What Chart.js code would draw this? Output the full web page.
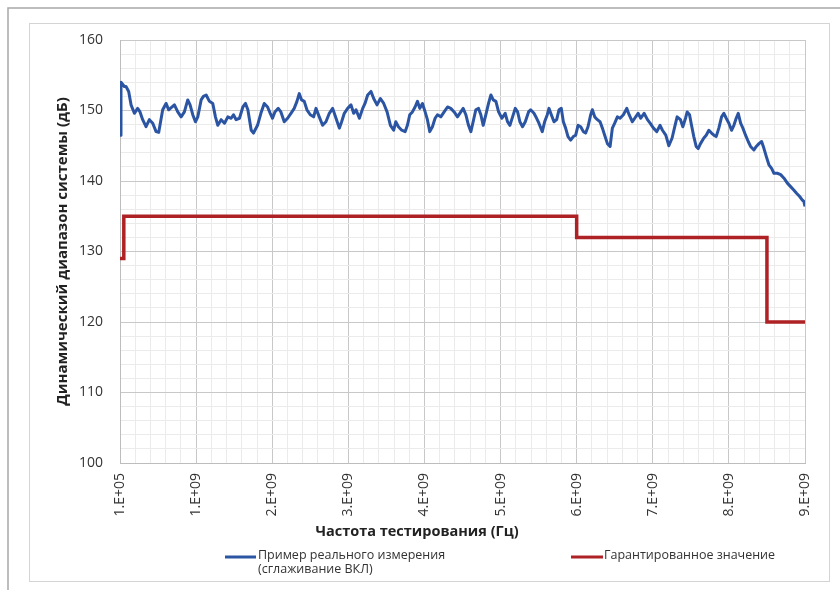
<!DOCTYPE html>
<html>
<head>
<meta charset="utf-8">
<script src="https://cdn.jsdelivr.net/npm/chart.js@4.4.1/dist/chart.umd.min.js"></script>
<style>
  body { margin: 0; background: #fff; }
</style>
</head>
<body>
<canvas id="chart" width="840" height="590"></canvas>
<script>
// frequency in GHz (axis labels are shown in Hz, Excel style)
const measFreq = [
  0, 0.013, 0.057, 0.079, 0.114, 0.145, 0.189, 0.232, 0.263, 0.298, 0.342, 0.386, 0.430, 0.474, 0.509,
  0.561, 0.605, 0.640, 0.684, 0.715, 0.759, 0.803, 0.846, 0.890, 0.921, 0.956, 0.991, 1.022, 1.066, 1.096,
  1.132, 1.175, 1.219, 1.254, 1.285, 1.329, 1.373, 1.417, 1.460, 1.491, 1.526, 1.570, 1.614, 1.649, 1.680,
  1.724, 1.754, 1.807, 1.851, 1.895, 1.939, 1.974, 2.004, 2.035, 2.079, 2.114, 2.158, 2.202, 2.246, 2.289,
  2.325, 2.355, 2.386, 2.421, 2.456, 2.500, 2.544, 2.575, 2.618, 2.662, 2.706, 2.750, 2.794, 2.838, 2.882,
  2.912, 2.947, 2.991, 3.035, 3.070, 3.101, 3.145, 3.189, 3.219, 3.254, 3.298, 3.333, 3.377, 3.421, 3.465,
  3.509, 3.553, 3.596, 3.623, 3.658, 3.702, 3.746, 3.776, 3.807, 3.842, 3.877, 3.908, 3.939, 3.974, 4.009,
  4.039, 4.070, 4.105, 4.140, 4.171, 4.215, 4.259, 4.303, 4.346, 4.390, 4.434, 4.478, 4.509, 4.544, 4.579,
  4.610, 4.640, 4.675, 4.711, 4.741, 4.772, 4.807, 4.842, 4.873, 4.904, 4.939, 4.974, 5.018, 5.061, 5.092,
  5.123, 5.158, 5.193, 5.224, 5.254, 5.289, 5.325, 5.368, 5.395, 5.439, 5.474, 5.504, 5.548, 5.579, 5.614,
  5.636, 5.667, 5.702, 5.737, 5.768, 5.798, 5.825, 5.855, 5.886, 5.921, 5.956, 5.987, 6.018, 6.053, 6.088,
  6.118, 6.149, 6.184, 6.206, 6.237, 6.272, 6.307, 6.338, 6.368, 6.404, 6.439, 6.469, 6.500, 6.535, 6.570,
  6.614, 6.658, 6.689, 6.732, 6.763, 6.807, 6.842, 6.886, 6.930, 6.965, 7.009, 7.053, 7.096, 7.127, 7.171,
  7.211, 7.254, 7.289, 7.320, 7.364, 7.395, 7.430, 7.452, 7.483, 7.509, 7.539, 7.570, 7.596, 7.627, 7.671,
  7.702, 7.737, 7.772, 7.803, 7.833, 7.868, 7.904, 7.934, 7.965, 8.000, 8.035, 8.066, 8.096, 8.123, 8.154,
  8.184, 8.219, 8.254, 8.285, 8.329, 8.360, 8.395, 8.430, 8.461, 8.491, 8.526, 8.561, 8.592, 8.636, 8.680,
  8.724, 8.768, 8.811, 8.855, 8.886, 8.930, 8.965, 8.985, 9.000
];
const measLevel = [
  146.5, 154.0, 153.4, 153.4, 152.7, 150.8, 149.6, 150.3, 149.8, 148.7, 147.7, 148.7, 148.2, 147.0, 146.9,
  150.1, 151.0, 150.1, 150.5, 150.8, 149.8, 149.1, 149.8, 151.5, 150.8, 149.4, 148.4, 149.1, 151.5, 152.0,
  152.2, 151.3, 151.0, 149.1, 147.9, 148.7, 148.2, 149.1, 148.9, 149.4, 148.7, 148.9, 150.5, 151.0, 150.1,
  147.2, 146.8, 147.9, 149.6, 151.0, 150.5, 149.6, 148.9, 149.8, 150.3, 149.8, 148.4, 148.9, 149.6, 150.3,
  151.3, 152.4, 151.5, 151.3, 150.1, 149.4, 149.1, 150.3, 149.1, 147.9, 148.4, 149.6, 150.3, 148.9, 147.5,
  148.4, 149.6, 150.3, 150.8, 149.6, 150.1, 148.9, 150.3, 151.0, 152.2, 152.7, 151.7, 150.8, 151.7, 151.0,
  149.8, 147.9, 147.2, 148.4, 147.7, 147.2, 147.0, 147.9, 149.4, 149.8, 150.5, 151.3, 150.3, 151.0, 149.8,
  148.7, 147.0, 147.7, 148.9, 149.4, 149.1, 149.8, 150.5, 150.3, 149.8, 149.1, 149.8, 150.3, 149.4, 147.9,
  147.0, 148.4, 150.1, 150.3, 149.4, 147.9, 149.4, 151.0, 152.2, 151.5, 151.3, 149.8, 148.9, 149.6, 148.4,
  147.9, 149.1, 150.3, 149.8, 148.4, 147.7, 148.4, 149.8, 150.1, 149.6, 148.9, 148.2, 147.0, 148.4, 149.4,
  150.3, 149.4, 148.4, 148.7, 150.1, 150.3, 148.4, 147.5, 146.3, 145.8, 146.3, 146.5, 147.9, 147.7, 147.0,
  146.8, 147.7, 149.4, 150.1, 149.1, 148.7, 148.4, 147.5, 146.5, 145.3, 144.9, 147.5, 148.2, 149.1, 148.9,
  149.4, 150.3, 149.4, 148.4, 148.9, 149.6, 148.9, 149.6, 148.7, 148.2, 147.5, 147.0, 147.9, 147.2, 146.5,
  145.0, 146.1, 147.7, 149.1, 148.7, 147.7, 148.9, 149.8, 149.4, 147.9, 146.3, 144.9, 144.6, 145.3, 146.1,
  146.5, 147.2, 146.8, 146.5, 146.3, 147.5, 149.1, 149.6, 148.9, 148.2, 147.2, 147.9, 148.9, 149.6, 148.2,
  147.5, 146.5, 145.6, 144.9, 144.4, 144.9, 145.3, 145.6, 144.6, 143.5, 142.3, 141.8, 141.1, 141.1, 140.9,
  140.4, 139.7, 139.2, 138.7, 138.3, 137.8, 137.3, 137.1, 136.4
];

// guaranteed value, each level held until the next frequency
const specFreq = [0, 0.05, 6.0, 8.5, 9.0];
const specLevel = [129, 135, 132, 120, 120];

const measLabel = ['Пример реального измерения', '(сглаживание ВКЛ)'];
const specLabel = 'Гарантированное значение';
const xTitle = 'Частота тестирования (Гц)';
const yTitle = 'Динамический диапазон системы (дБ)';

const BLUE = '#2b55a3';
const RED = '#ae2125';
const FONT = "'Open Sans', sans-serif";

const isMajor = (v, unit) => Math.abs(v / unit - Math.round(v / unit)) < 1e-6;

// frames, x title and legend are drawn around the chart like in the Excel sheet
const decor = {
  id: 'decor',
  beforeDraw(chart) {
    const c = chart.ctx;
    c.save();
    c.fillStyle = '#fff';
    c.fillRect(0, 0, chart.width, chart.height);
    c.strokeStyle = '#a8a8a8';
    c.lineWidth = 1.5;
    c.beginPath();
    c.moveTo(8, 590);
    c.lineTo(8, 8);
    c.lineTo(840, 8);
    c.stroke();
    c.strokeStyle = '#d4d4d4';
    c.lineWidth = 1;
    c.strokeRect(29.5, 23.5, 800, 558);
    c.restore();
  },
  afterDraw(chart) {
    const c = chart.ctx;
    c.save();
    c.fillStyle = '#222';
    c.font = "bold 14.5px " + FONT;
    c.textAlign = 'center';
    c.textBaseline = 'middle';
    c.fillText(xTitle, 417, 532);

    c.lineWidth = 3;
    c.strokeStyle = BLUE;
    c.beginPath();
    c.moveTo(225, 557);
    c.lineTo(256, 557);
    c.stroke();
    c.strokeStyle = RED;
    c.beginPath();
    c.moveTo(571, 557);
    c.lineTo(603, 557);
    c.stroke();

    c.fillStyle = '#333';
    c.font = "12.5px " + FONT;
    c.textAlign = 'left';
    c.fillText(measLabel[0], 258, 555);
    c.fillText(measLabel[1], 258, 569);
    c.fillText(specLabel, 604, 555);
    c.restore();
  }
};

new Chart(document.getElementById('chart'), {
  type: 'line',
  data: {
    datasets: [
      {
        label: measLabel.join(' '),
        data: measFreq.map((f, i) => ({ x: f, y: measLevel[i] })),
        borderColor: BLUE,
        borderWidth: 3,
        borderJoinStyle: 'round',
        pointRadius: 0,
        tension: 0
      },
      {
        label: specLabel,
        data: specFreq.map((f, i) => ({ x: f, y: specLevel[i] })),
        borderColor: RED,
        borderWidth: 3.5,
        stepped: 'before',
        pointRadius: 0
      }
    ]
  },
  options: {
    responsive: false,
    animation: false,
    layout: { padding: { left: 54, right: 35, top: 40, bottom: 67 } },
    plugins: {
      legend: { display: false },
      tooltip: { enabled: false }
    },
    scales: {
      x: {
        type: 'linear',
        min: 0,
        max: 9,
        afterFit: s => { s.height = 60; },
        border: { color: '#bdbdbd' },
        grid: {
          drawTicks: false,
          color: ctx => isMajor(ctx.tick.value, 1) ? '#c8c8c8' : '#ebebeb'
        },
        ticks: {
          stepSize: 0.2,
          autoSkip: false,
          minRotation: 90,
          maxRotation: 90,
          padding: 10,
          color: '#333',
          font: { family: FONT, size: 14 },
          callback: v => {
            if (!isMajor(v, 1)) return '';
            return v === 0 ? '1.E+05' : Math.round(v) + '.E+09';
          }
        }
      },
      y: {
        min: 100,
        max: 160,
        afterFit: s => { s.width = 66; },
        border: { color: '#bdbdbd' },
        grid: {
          drawTicks: false,
          color: ctx => isMajor(ctx.tick.value, 10) ? '#c8c8c8' : '#ebebeb'
        },
        ticks: {
          stepSize: 2,
          autoSkip: false,
          padding: 17,
          color: '#333',
          font: { family: FONT, size: 14 },
          callback: v => isMajor(v, 10) ? v : ''
        },
        title: {
          display: true,
          text: yTitle,
          color: '#222',
          padding: 0,
          font: { family: FONT, size: 15, weight: 'bold' }
        }
      }
    }
  },
  plugins: [decor]
});
</script>
</body>
</html>
